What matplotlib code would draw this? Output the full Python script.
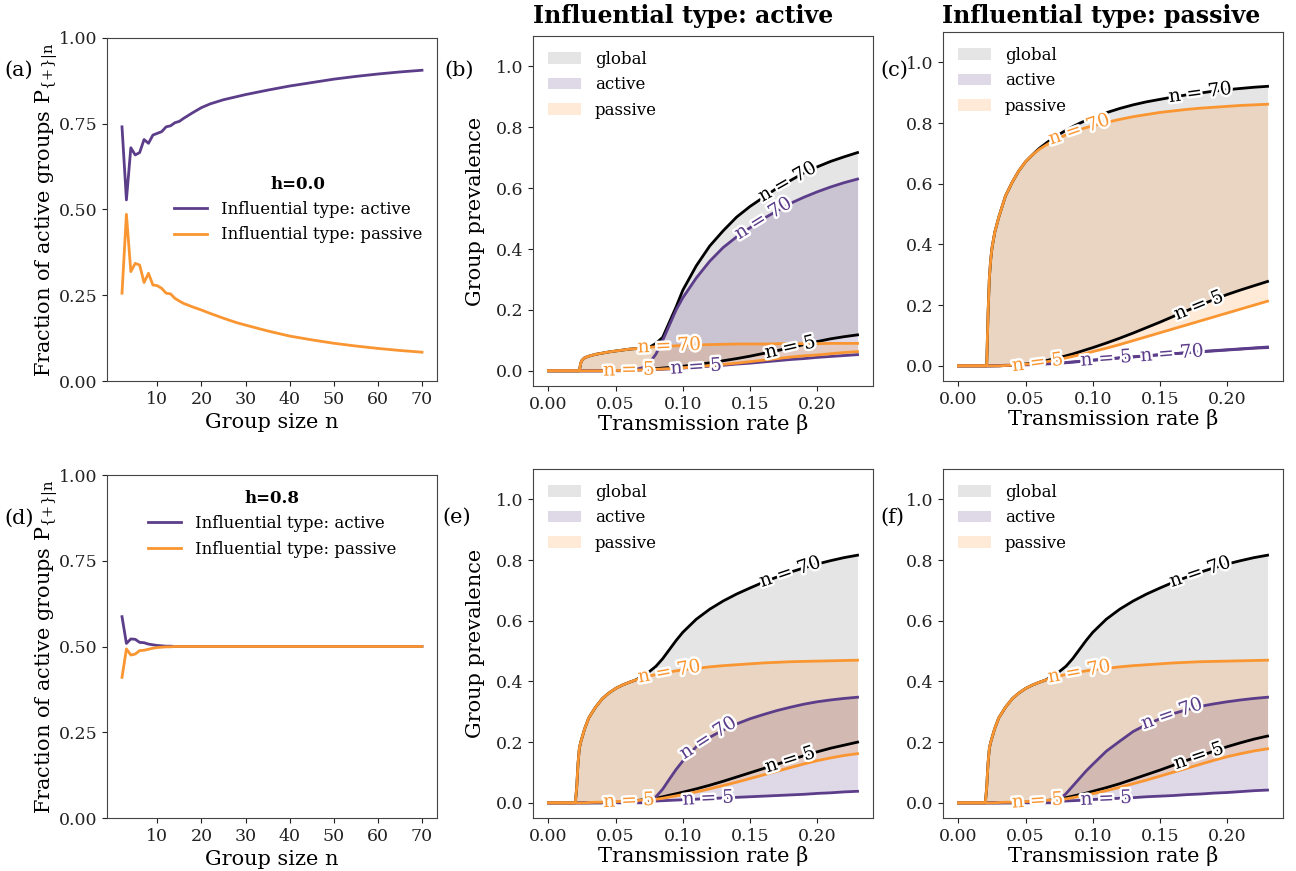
import numpy as np
import matplotlib
matplotlib.use("Agg")
import matplotlib.pyplot as plt
import matplotlib.patheffects as pe

plt.rcParams['font.family'] = 'DejaVu Serif'
plt.rcParams['mathtext.fontset'] = 'dejavuserif'
plt.rcParams['mathtext.default'] = 'regular'

PURPLE = '#5c3d8a'
ORANGE = '#fa9632'
BLACK = '#000000'

# ---- left column: fraction of active groups vs group size ----
n_vals = [2, 3, 4, 5, 6, 7, 8, 9, 10, 11, 12, 13, 14, 15, 16, 18, 20, 22, 25, 28,
          30, 35, 40, 45, 50, 55, 60, 65, 70]
h00_active = [0.741, 0.528, 0.680, 0.659, 0.666, 0.704, 0.693, 0.717, 0.722, 0.727,
              0.741, 0.744, 0.753, 0.757, 0.766, 0.782, 0.797, 0.808, 0.820, 0.829,
              0.835, 0.848, 0.860, 0.870, 0.880, 0.888, 0.895, 0.901, 0.906]
h00_passive = [0.256, 0.486, 0.319, 0.343, 0.338, 0.287, 0.314, 0.280, 0.278, 0.270,
               0.256, 0.254, 0.241, 0.233, 0.226, 0.216, 0.207, 0.197, 0.183, 0.170,
               0.163, 0.146, 0.131, 0.120, 0.110, 0.102, 0.095, 0.089, 0.084]
h08_active = [0.587, 0.509, 0.522, 0.521, 0.512, 0.511, 0.507, 0.505, 0.503, 0.502,
              0.501, 0.501, 0.500, 0.500, 0.500, 0.500, 0.500, 0.500, 0.500, 0.500,
              0.500, 0.500, 0.500, 0.500, 0.500, 0.500, 0.500, 0.500, 0.500]
h08_passive = [0.410, 0.493, 0.475, 0.478, 0.488, 0.489, 0.492, 0.495, 0.497, 0.498,
               0.499, 0.499, 0.500, 0.500, 0.500, 0.500, 0.500, 0.500, 0.500, 0.500,
               0.500, 0.500, 0.500, 0.500, 0.500, 0.500, 0.500, 0.500, 0.500]

# ---- prevalence vs transmission rate ----
beta = [0, 0.01, 0.02, 0.021, 0.022, 0.023, 0.024, 0.025, 0.027, 0.03, 0.035, 0.04,
        0.045, 0.05, 0.055, 0.06, 0.065, 0.07, 0.075, 0.08, 0.085, 0.09, 0.095, 0.1,
        0.11, 0.12, 0.13, 0.14, 0.15, 0.16, 0.17, 0.18, 0.19, 0.2, 0.21, 0.22, 0.23]

# (b) h=0, influential active
b_global70 = [0, 0, 0, 0, 0, 0, .025, .035, .043, .048, .054, .058, .062, .065, .068,
              .071, .073, .075, .077, .09, .11, .16, .21, .265, .345, .41, .46, .505,
              .54, .57, .60, .625, .65, .67, .688, .703, .717]
b_global5 = [0, 0, 0, 0, 0, 0, 0, 0, 0, 0, 0, 0, 0, .001, .001, .002, .003, .004, .005,
             .007, .009, .011, .013, .015, .02, .026, .033, .04, .048, .057, .066, .076,
             .086, .096, .105, .112, .118]
b_active70 = [0, 0, 0, 0, 0, 0, 0, 0, 0, 0, 0, 0, 0, 0, 0, 0, .005, .01, .025, .055, .10,
              .15, .20, .24, .305, .36, .405, .44, .47, .50, .525, .55, .57, .588, .604,
              .618, .63]
b_active5 = [0, 0, 0, 0, 0, 0, 0, 0, 0, 0, 0, 0, 0, .001, .001, .002, .002, .003, .003,
             .004, .005, .006, .007, .009, .012, .015, .018, .022, .025, .029, .033,
             .037, .04, .044, .047, .05, .053]
b_passive70 = [0, 0, 0, 0, 0, 0, .025, .035, .043, .048, .054, .058, .062, .065, .068,
               .071, .073, .075, .077, .079, .080, .081, .082, .083, .085, .086, .087,
               .088, .088, .088, .089, .089, .089, .089, .09, .09, .09]
b_passive5 = [0, 0, 0, 0, 0, 0, 0, 0, 0, 0, 0, 0, 0, .001, .001, .002, .002, .003, .004,
              .005, .006, .007, .008, .01, .013, .017, .021, .025, .03, .035, .04, .045,
              .049, .052, .056, .06, .063]

# (c) h=0, influential passive
c_global70 = [0, 0, 0, 0, .17, .29, .35, .39, .44, .49, .56, .605, .643, .673, .695,
              .716, .733, .749, .763, .776, .788, .799, .809, .818, .834, .848, .86,
              .87, .878, .886, .893, .899, .905, .91, .914, .918, .921]
c_global5 = [0, 0, 0, 0, 0, 0, 0, 0, 0, 0, .001, .002, .004, .006, .009, .013, .017,
             .022, .027, .033, .039, .046, .053, .06, .075, .091, .108, .126, .144, .163,
             .182, .2, .218, .235, .25, .264, .278]
c_active70 = [0, 0, 0, 0, 0, 0, 0, 0, 0, 0, .001, .001, .002, .003, .004, .005, .006,
              .007, .009, .01, .012, .014, .016, .018, .022, .026, .029, .033, .036, .04,
              .043, .046, .049, .052, .055, .058, .06]
c_active5 = [0, 0, 0, 0, 0, 0, 0, 0, .0005, .001, .002, .002, .003, .004, .005, .006,
             .007, .008, .01, .011, .013, .015, .017, .019, .023, .026, .03, .033, .037,
             .04, .043, .047, .05, .053, .056, .059, .062]
c_passive70 = [0, 0, 0, 0, .17, .29, .35, .39, .44, .49, .56, .605, .643, .673, .695,
               .713, .727, .74, .751, .761, .77, .778, .785, .791, .802, .812, .821,
               .828, .835, .84, .845, .849, .852, .855, .858, .86, .862]
c_passive5 = [0, 0, 0, 0, 0, 0, 0, 0, 0, 0, .001, .002, .003, .005, .007, .01, .013,
              .017, .021, .026, .031, .036, .041, .047, .058, .07, .083, .096, .109,
              .122, .135, .148, .161, .174, .187, .2, .213]

# (e) and (f) h=0.8
ef_global70 = [0, 0, 0, .05, .13, .18, .2, .215, .245, .28, .315, .343, .362, .377,
               .388, .397, .405, .418, .432, .45, .475, .505, .535, .562, .605, .638,
               .665, .688, .708, .727, .744, .76, .774, .787, .798, .808, .816]
ef_passive70 = [0, 0, 0, .05, .13, .18, .2, .215, .245, .28, .315, .343, .362, .377,
                .388, .397, .405, .412, .418, .423, .427, .431, .435, .438, .443, .448,
                .452, .455, .458, .461, .463, .465, .466, .467, .468, .469, .47]
e_global5 = [0, 0, 0, 0, 0, 0, 0, 0, 0, 0, 0, 0, 0, .002, .003, .005, .007, .01, .012,
             .015, .02, .025, .03, .035, .046, .058, .071, .085, .099, .113, .127, .141,
             .155, .168, .18, .19, .2]
e_active70 = [0, 0, 0, 0, 0, 0, 0, 0, 0, 0, 0, 0, 0, 0, 0, 0, 0, 0, .005, .02, .045,
              .078, .11, .138, .185, .216, .24, .26, .277, .291, .304, .315, .325, .333,
              .339, .344, .348]
e_active5 = [0, 0, 0, 0, 0, 0, 0, 0, 0, 0, .001, .001, .002, .002, .003, .003, .004,
             .004, .005, .006, .007, .008, .009, .01, .012, .014, .016, .018, .02, .022,
             .024, .026, .028, .031, .033, .036, .038]
e_passive5 = [0, 0, 0, 0, 0, 0, 0, 0, 0, .001, .002, .002, .003, .004, .005, .006, .007,
              .009, .01, .012, .015, .019, .023, .027, .036, .046, .057, .068, .08, .092,
              .104, .116, .128, .139, .148, .156, .162]
f_global5 = [0, 0, 0, 0, 0, 0, 0, 0, 0, 0, 0, 0, 0, .002, .003, .005, .007, .01, .013,
             .017, .022, .027, .032, .038, .05, .063, .078, .093, .108, .124, .14, .155,
             .17, .185, .198, .21, .22]
f_active70 = [0, 0, 0, 0, 0, 0, 0, 0, 0, 0, 0, 0, 0, 0, 0, 0, 0, 0, .01, .03, .055,
              .08, .105, .127, .17, .203, .235, .258, .277, .294, .307, .318, .326, .333,
              .339, .344, .348]
f_active5 = [0, 0, 0, 0, 0, 0, 0, 0, 0, 0, .001, .001, .002, .002, .003, .003, .004,
             .005, .005, .006, .007, .008, .009, .011, .013, .015, .017, .02, .022, .024,
             .027, .029, .032, .034, .037, .04, .042]
f_passive5 = [0, 0, 0, 0, 0, 0, 0, 0, 0, .001, .002, .002, .003, .004, .005, .006, .008,
              .009, .011, .013, .017, .021, .025, .03, .04, .051, .063, .075, .088, .101,
              .114, .127, .14, .152, .162, .171, .178]

# label x positions (beta) for the inline "n = .." labels
b_label_x = {'g70': 0.178, 'g5': 0.18, 'a70': 0.16, 'a5': 0.11, 'p70': 0.09, 'p5': 0.06}
c_label_x = {'g70': 0.18, 'g5': 0.179, 'a70': 0.159, 'a5': 0.11, 'p70': 0.09, 'p5': 0.059}
e_label_x = {'g70': 0.18, 'g5': 0.18, 'a70': 0.119, 'a5': 0.119, 'p70': 0.09, 'p5': 0.06}
f_label_x = {'g70': 0.18, 'g5': 0.179, 'a70': 0.159, 'a5': 0.11, 'p70': 0.09, 'p5': 0.059}


def inline_label(ax, x, y, xpos, text, color):
    x = np.asarray(x)
    y = np.asarray(y)
    ypos = np.interp(xpos, x, y)
    d = 0.005
    p1 = ax.transData.transform((xpos - d, np.interp(xpos - d, x, y)))
    p2 = ax.transData.transform((xpos + d, np.interp(xpos + d, x, y)))
    ang = np.degrees(np.arctan2(p2[1] - p1[1], p2[0] - p1[0]))
    ax.text(xpos, ypos, text, color=color, rotation=ang, rotation_mode='anchor',
            ha='center', va='center', fontsize=13.5, zorder=6,
            path_effects=[pe.withStroke(linewidth=3.5, foreground='white')])


def style_axes(ax):
    for s in ax.spines.values():
        s.set_edgecolor('#444444')
    ax.tick_params(labelsize=12.5, colors='#222222')


def group_size_panel(ax, act, pas, title, loc):
    ax.plot(n_vals, act, color=PURPLE, lw=2, label='Influential type: active')
    ax.plot(n_vals, pas, color=ORANGE, lw=2, label='Influential type: passive')
    ax.set_ylim(0, 1)
    ax.set_xlim(-1.4, 73.4)
    ax.set_xticks([10, 20, 30, 40, 50, 60, 70])
    ax.set_yticks([0, 0.25, 0.5, 0.75, 1.0])
    ax.set_yticklabels(['0.00', '0.25', '0.50', '0.75', '1.00'])
    ax.set_xlabel('Group size n', fontsize=15)
    ax.set_ylabel(r'Fraction of active groups P$_{\{+\}|n}$', fontsize=15, labelpad=-1)
    ax.legend(loc=loc, frameon=False, fontsize=12, title=title,
              title_fontproperties={'weight': 'bold', 'size': 12})
    style_axes(ax)


def prevalence_panel(ax, g70, g5, a70, a5, p70, p5, lab_x, ylabel):
    ax.set_xlim(-0.0115, 0.2415)
    ax.set_ylim(-0.05, 1.1)
    ax.fill_between(beta, g5, g70, color='gray', alpha=0.2, lw=0, label='global')
    ax.fill_between(beta, a5, a70, color=PURPLE, alpha=0.2, lw=0, label='active')
    ax.fill_between(beta, p5, p70, color=ORANGE, alpha=0.2, lw=0, label='passive')
    curves = [(g70, BLACK, 'g70', 'n = 70'), (g5, BLACK, 'g5', 'n = 5'),
              (a70, PURPLE, 'a70', 'n = 70'), (a5, PURPLE, 'a5', 'n = 5'),
              (p70, ORANGE, 'p70', 'n = 70'), (p5, ORANGE, 'p5', 'n = 5')]
    for y, c, key, txt in curves:
        ax.plot(beta, y, color=c, lw=2)
    for y, c, key, txt in curves:
        inline_label(ax, beta, y, lab_x[key], txt, c)
    ax.set_xticks([0, 0.05, 0.1, 0.15, 0.2])
    ax.set_xticklabels(['0.00', '0.05', '0.10', '0.15', '0.20'])
    ax.set_yticks([0, 0.2, 0.4, 0.6, 0.8, 1.0])
    ax.set_xlabel('Transmission rate β', fontsize=15, labelpad=1)
    if ylabel:
        ax.set_ylabel('Group prevalence', fontsize=15, labelpad=8)
    ax.legend(loc='upper left', frameon=False, fontsize=12)
    style_axes(ax)


W, H = 1296, 871
fig = plt.figure(figsize=(W / 100, H / 100), dpi=100)


def rect(l, r, t, b):
    return [l / W, 1 - b / H, (r - l) / W, (b - t) / H]


ax_a = fig.add_axes(rect(107, 437, 38, 381))
ax_b = fig.add_axes(rect(533, 873, 36, 386))
ax_c = fig.add_axes(rect(943, 1283, 32, 381))
ax_d = fig.add_axes(rect(107, 437, 475, 818))
ax_e = fig.add_axes(rect(533, 873, 469, 818))
ax_f = fig.add_axes(rect(943, 1283, 469, 818))

group_size_panel(ax_a, h00_active, h00_passive, 'h=0.0', 'center right')
group_size_panel(ax_d, h08_active, h08_passive, 'h=0.8', 'upper center')

prevalence_panel(ax_b, b_global70, b_global5, b_active70, b_active5,
                 b_passive70, b_passive5, b_label_x, True)
prevalence_panel(ax_c, c_global70, c_global5, c_active70, c_active5,
                 c_passive70, c_passive5, c_label_x, False)
prevalence_panel(ax_e, ef_global70, e_global5, e_active70, e_active5,
                 ef_passive70, e_passive5, e_label_x, True)
prevalence_panel(ax_f, ef_global70, f_global5, f_active70, f_active5,
                 ef_passive70, f_passive5, f_label_x, False)

fig.text(683 / W, 1 - 23 / H, 'Influential type: active', ha='center',
         va='baseline', fontsize=17, fontweight='bold')
fig.text(1101 / W, 1 - 23 / H, 'Influential type: passive', ha='center',
         va='baseline', fontsize=17, fontweight='bold')

for lab, x, y in [('(a)', 19, 70), ('(b)', 459, 70), ('(c)', 894, 70),
                  ('(d)', 19, 518), ('(e)', 457, 517), ('(f)', 892, 517)]:
    fig.text(x / W, 1 - y / H, lab, ha='center', va='center', fontsize=15)

fig.savefig('out.png', dpi=100)
